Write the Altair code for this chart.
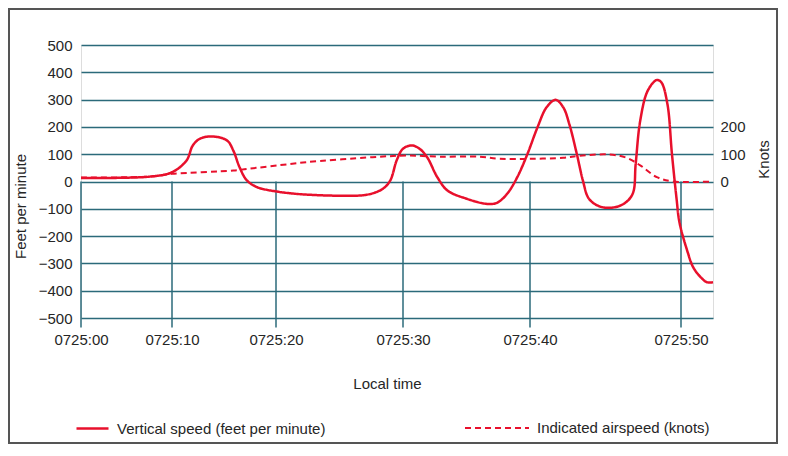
import altair as alt
import pandas as pd

# ---------------- data ----------------
VS = "Vertical speed (feet per minute)"
IAS = "Indicated airspeed (knots)"

# seconds after 0725:00
vs_time = [0.0, 7.6, 10.0, 11.4, 12.0, 12.7, 13.9, 15.3, 15.9, 16.5,
           17.2, 18.2, 20.1, 21.1, 22.4, 25.0, 27.2, 28.4, 29.0, 29.5,
           30.0, 30.7, 31.3, 31.9, 32.7, 33.5, 35.0, 36.6, 37.4, 38.2,
           39.0, 39.8, 40.5, 41.1, 41.7, 42.2, 42.6, 43.1, 43.5, 43.9,
           44.6, 45.4, 46.2, 46.8, 47.0, 47.3, 47.8, 48.4, 48.7, 49.1,
           49.4, 49.7, 49.9, 50.4, 50.8, 51.3, 51.7, 52.1]
vs_fpm = [13, 18, 34, 77, 132, 157, 165, 150, 113, 52,
          4, -21, -37, -43, -48, -52, -48, -27, 4, 77,
          120, 132, 120, 89, 16, -33, -63, -82, -78, -45,
          16, 101, 199, 272, 299, 272, 211, 101, 4, -63,
          -91, -96, -82, -45, 65, 223, 333, 372, 363, 284,
          101, -60, -150, -252, -314, -351, -369, -369]

ias_time = [0.0, 7.6, 10.0, 15.9, 17.2, 21.1, 22.4, 27.6, 30.3, 32.9,
            36.0, 37.6, 40.0, 42.2, 43.3, 45.2, 46.4, 47.3, 48.4, 49.5, 52.1]
ias_kt = [15, 18, 28, 40, 46, 64, 71, 89, 95, 91,
          91, 83, 83, 87, 94, 99, 87, 59, 16, 0, 0]

tick_seconds = [0, 10, 20, 30, 40, 50]
tick_labels = ["0725:00", "0725:10", "0725:20", "0725:30", "0725:40", "0725:50"]
fpm_ticks = [-500, -400, -300, -200, -100, 0, 100, 200, 300, 400, 500]
knot_ticks = [0, 100, 200]

# ---------------- styling ----------------
RED = "#e8102c"
GRID = "#2b6a7a"
TEXT = "#262626"
FONT = "Liberation Sans"

W, H = 632, 273

vs_df = pd.DataFrame({"t": vs_time, "v": vs_fpm, "series": VS})
vs_df["dash"] = vs_df["series"]
ias_df = pd.DataFrame({"t": ias_time, "v": ias_kt, "series": IAS})
ias_df["dash"] = ias_df["series"]
ticks_df = pd.DataFrame({"t": tick_seconds, "top": 0, "bottom": -535})

label_expr = ""
for s, l in zip(tick_seconds, tick_labels):
    label_expr += f"datum.value == {s} ? '{l}' : "
label_expr += "''"

# uneven category spacing of the original time axis (piecewise scale)
x_scale = alt.Scale(domain=tick_seconds + [52.1],
                    range=[0, 91, 195, 322, 449, 600, W],
                    nice=False, zero=False)
x_axis = alt.Axis(values=tick_seconds, labelExpr=label_expr, title="Local time",
                  grid=False, domain=False, ticks=False, tickSize=0,
                  labelFlush=False, labelAlign="center",
                  labelPadding=14, labelFontSize=15, labelColor=TEXT,
                  titleFontSize=15, titleFontWeight="normal", titleColor=TEXT,
                  titleX=306, titleY=65, titleAlign="center", titleBaseline="middle")


def xenc():
    return alt.X("t:Q", scale=x_scale, axis=x_axis)


def yscale():
    return alt.Scale(domain=[-500, 500], nice=False, zero=False)


color_enc = alt.Color(
    "series:N",
    scale=alt.Scale(domain=[VS, IAS], range=[RED, RED]),
    legend=alt.Legend(values=[VS], title=None, orient="none", legendX=-6, legendY=366,
                      direction="horizontal", symbolType="stroke", symbolSize=1024,
                      symbolStrokeWidth=2.5, labelFontSize=15, labelLimit=400,
                      labelOffset=7, labelColor=TEXT, padding=0),
)
# domain order differs from the colour scale so the two legends stay separate
dash_enc = alt.StrokeDash(
    "dash:N",
    scale=alt.Scale(domain=[IAS, VS], range=[[6, 4], [1, 0]]),
    legend=alt.Legend(values=[IAS], title=None, orient="none", legendX=383, legendY=350,
                      direction="horizontal", symbolType="stroke", symbolSize=4096,
                      symbolStrokeWidth=2, symbolStrokeColor=RED, labelFontSize=15,
                      labelLimit=400, labelOffset=7, labelColor=TEXT, padding=0),
)

rules = alt.Chart(ticks_df).mark_rule(color=GRID, strokeWidth=1.5).encode(
    x=xenc(),
    y=alt.Y("top:Q", scale=yscale(), axis=None),
    y2="bottom:Q",
)

vs_line = alt.Chart(vs_df).mark_line(strokeWidth=2.5, interpolate="catmull-rom").encode(
    x=xenc(),
    y=alt.Y("v:Q", scale=yscale(),
            axis=alt.Axis(orient="left", values=fpm_ticks, title="Feet per minute",
                          grid=True, gridColor=GRID, gridWidth=1.5, domain=False,
                          ticks=False, tickSize=0, labelPadding=9, labelFontSize=15,
                          labelColor=TEXT, titleFontSize=15, titleFontWeight="normal",
                          titleColor=TEXT, titleX=-61, titleY=161, titleAngle=270,
                          titleAlign="center", titleBaseline="middle")),
    color=color_enc,
    strokeDash=dash_enc,
)

ias_line = alt.Chart(ias_df).mark_line(strokeWidth=2, interpolate="catmull-rom").encode(
    x=xenc(),
    y=alt.Y("v:Q", scale=yscale(),
            axis=alt.Axis(orient="right", values=knot_ticks, title="Knots",
                          grid=False, domain=False, ticks=False, tickSize=0,
                          labelPadding=7, labelFontSize=15, labelColor=TEXT,
                          titleFontSize=15, titleFontWeight="normal", titleColor=TEXT,
                          titleX=50, titleY=114, titleAngle=270,
                          titleAlign="center", titleBaseline="middle")),
    color=color_enc,
    strokeDash=dash_enc,
)

border = alt.Chart(alt.Data(values=[{}])).mark_rect(
    filled=False, stroke="#555555", strokeWidth=2
).encode(
    x=alt.value(-72), x2=alt.value(696), y=alt.value(-36), y2=alt.value(398)
)

chart = (
    alt.layer(rules, vs_line, ias_line, border)
    .resolve_scale(y="independent")
    .properties(
        width=W, height=H,
        autosize=alt.AutoSizeParams(type="none"),
        padding={"left": 73, "top": 37, "right": 65, "bottom": 126},
        background="white",
    )
    .configure_view(stroke=None)
    .configure(font=FONT)
)

chart.save("out.html", embed_options={"renderer": "svg", "actions": False})
